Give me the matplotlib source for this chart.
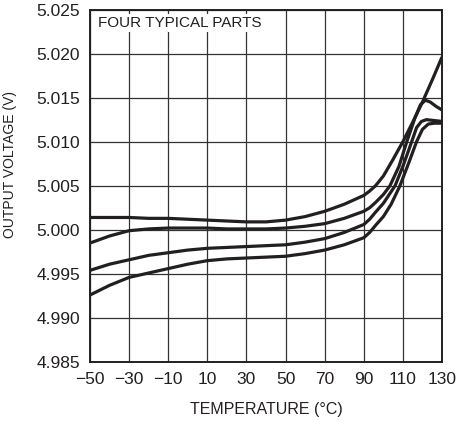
# Output voltage vs temperature, four typical parts
import numpy as np
import matplotlib.pyplot as plt

# temperatures (deg C) where the curves were read
temp_low = [-50, -40, -30, -20, -10, 0, 10, 20, 30, 40, 50, 60, 70, 80, 90]

# output voltage (V) of each part
part_a_low = [5.0014, 5.0014, 5.0014, 5.0013, 5.0013, 5.0012, 5.0011, 5.0010, 5.0009, 5.0009, 5.0011, 5.0015, 5.0021, 5.0029, 5.0039]
part_b_low = [4.9985, 4.9993, 4.9999, 5.0001, 5.0002, 5.0002, 5.0002, 5.0001, 5.0001, 5.0001, 5.0002, 5.0004, 5.0007, 5.0013, 5.0021]
part_c_low = [4.9954, 4.9961, 4.9966, 4.9971, 4.9974, 4.9977, 4.9979, 4.9980, 4.9981, 4.9982, 4.9983, 4.9986, 4.9990, 4.9997, 5.0006]
part_d_low = [4.9926, 4.9937, 4.9946, 4.9951, 4.9956, 4.9961, 4.9965, 4.9967, 4.9968, 4.9969, 4.9970, 4.9973, 4.9977, 4.9983, 4.9991]

# high temperature part, each curve read separately
temp_a_hi = [93, 96, 100, 105, 110, 115, 120, 125, 130]
part_a_hi = [5.0044, 5.0050, 5.0061, 5.0080, 5.0100, 5.0122, 5.0145, 5.0170, 5.0196]
temp_b_hi = [93, 96, 100, 103.4, 108, 112, 116, 119, 121.5, 124, 127, 130]
part_b_hi = [5.0025, 5.0031, 5.0040, 5.0050, 5.0072, 5.0100, 5.0126, 5.0142, 5.0147, 5.0145, 5.0140, 5.0136]
temp_c_hi = [93, 96, 100, 106, 110, 114.5, 117, 119.5, 122, 126, 130]
part_c_hi = [5.0012, 5.0020, 5.0030, 5.0050, 5.0072, 5.0100, 5.0116, 5.0123, 5.0125, 5.0124, 5.0123]
temp_d_hi = [93, 96, 100, 104, 108.5, 113, 117, 120, 123, 126, 130]
part_d_hi = [4.9997, 5.0005, 5.0015, 5.0029, 5.0050, 5.0076, 5.0100, 5.0114, 5.0120, 5.0121, 5.0121]

xticks = list(range(-50, 131, 20))
yticks = [4.985, 4.990, 4.995, 5.000, 5.005, 5.010, 5.015, 5.020, 5.025]

font = ['Liberation Sans', 'DejaVu Sans']

fig = plt.figure(figsize=(4.58, 4.21), dpi=100)
ax = fig.add_axes([90/458, 1 - 362/421, 352/458, 352.5/421])

ink = '#231f20'
for t_lo, v_lo, t_hi, v_hi in [(temp_low, part_a_low, temp_a_hi, part_a_hi),
                               (temp_low, part_b_low, temp_b_hi, part_b_hi),
                               (temp_low, part_c_low, temp_c_hi, part_c_hi),
                               (temp_low, part_d_low, temp_d_hi, part_d_hi)]:
    t = np.array(t_lo + t_hi)
    v = np.array(v_lo + v_hi)
    ax.plot(t, v, color=ink, lw=2.3, solid_joinstyle='round', solid_capstyle='butt')

ax.set_xlim(-50, 130)
ax.set_ylim(4.985, 5.025)
ax.set_xticks(xticks)
ax.set_yticks(yticks)
ax.set_xticklabels([str(x).replace('-', '\u2212') for x in xticks], family=font, fontsize=12.5)
ax.set_yticklabels(['%.3f' % y for y in yticks], family=font, fontsize=12.5)
ax.tick_params(length=0, pad=7, colors=ink)
ax.grid(True, color='#333333', lw=0.9)
ax.set_axisbelow(True)
for s in ax.spines.values():
    s.set_linewidth(1.4)
    s.set_color(ink)

ax.set_xlabel('TEMPERATURE (\u00b0C)', family=font, fontsize=11.5, color=ink)
ax.set_ylabel('OUTPUT VOLTAGE (V)', family=font, fontsize=10, color=ink)
ax.xaxis.set_label_coords(0.5, -0.113)
ax.yaxis.set_label_coords(-0.207, 0.56)

ax.text(-46, 5.0235, 'FOUR TYPICAL PARTS', family=font, fontsize=11, color=ink,
        va='center', ha='left', zorder=3,
        bbox=dict(facecolor='white', edgecolor='none', pad=1.5))

fig.savefig('out.png', dpi=100)
